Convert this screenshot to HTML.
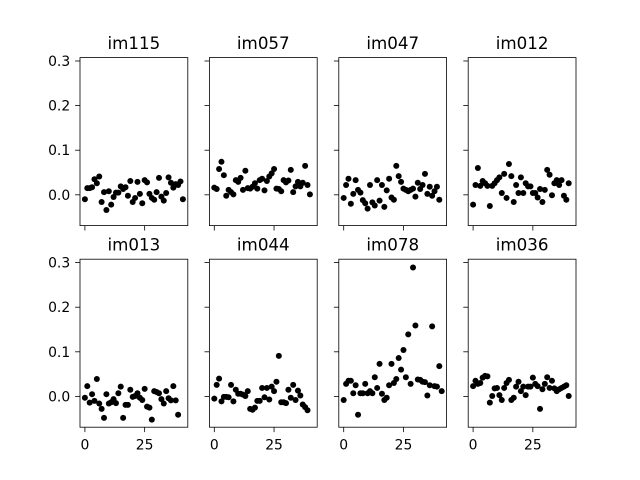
<!DOCTYPE html>
<html><head><meta charset="utf-8">
<style>
html,body{margin:0;padding:0;background:#fff;}
svg{display:block;font-family:"DejaVu Sans","Liberation Sans",sans-serif;}
</style></head>
<body>
<svg id="fig" width="640" height="480" viewBox="0 0 640 480" xmlns="http://www.w3.org/2000/svg">
<rect width="640" height="480" fill="#fff"/>
</svg>
<script>
const titles = ["im115","im057","im047","im012","im013","im044","im078","im036"];
const yTicks = [0.0, 0.1, 0.2, 0.3];
const yTickLabels = ["0.0","0.1","0.2","0.3"];
const xTicks = [0, 25];
const xTickLabels = ["0","25"];
const s_im115 = [-0.010,0.015,0.015,0.017,0.035,0.026,0.041,-0.016,0.006,-0.034,0.008,-0.022,-0.005,0.005,0.005,0.019,0.013,0.017,-0.002,0.031,-0.016,-0.007,0.029,0.002,-0.019,0.033,0.028,0.002,-0.007,-0.011,0.006,0.038,-0.004,-0.013,0.004,0.039,0.027,0.016,0.024,0.022,0.030,-0.010];
const s_im057 = [0.016,0.013,0.058,0.074,0.044,-0.002,0.011,0.006,0.001,0.033,0.029,0.038,0.011,0.054,0.015,0.014,0.018,0.026,0.014,0.033,0.036,0.010,0.031,0.041,0.048,0.058,0.014,0.013,0.008,0.033,0.028,0.032,0.056,0.006,0.019,0.029,0.019,0.027,0.065,0.022,0.001];
const s_im047 = [-0.007,0.022,0.036,-0.020,0.002,0.033,0.011,0.005,-0.012,-0.019,-0.031,0.022,-0.017,-0.024,0.033,-0.013,0.022,-0.027,0.010,0.036,-0.006,-0.011,0.065,0.042,0.029,0.014,0.011,0.008,0.011,0.014,-0.004,0.027,0.013,0.022,0.047,0.002,0.018,-0.002,0.008,0.018,-0.011];
const s_im012 = [-0.022,0.022,0.060,0.020,0.031,0.026,0.020,-0.025,0.020,0.026,0.033,0.039,0.004,0.047,-0.007,0.069,0.042,-0.016,0.022,0.004,0.039,0.004,0.026,0.019,0.019,0.004,0.004,-0.006,0.013,-0.016,0.011,0.056,0.045,-0.001,0.026,0.033,0.022,0.033,-0.002,-0.011,0.026];
const s_im013 = [-0.003,0.023,-0.014,0.005,-0.010,0.039,-0.016,-0.028,-0.048,0.005,-0.016,-0.013,-0.006,-0.015,0.007,0.022,-0.048,-0.019,-0.019,0.015,-0.001,0.001,0.007,-0.003,-0.008,0.017,-0.023,-0.025,-0.052,0.012,0.010,0.007,-0.006,-0.016,0.012,-0.004,-0.009,0.023,-0.009,-0.041];
const s_im044 = [-0.005,0.026,0.040,-0.011,-0.001,-0.001,-0.002,0.026,-0.011,0.015,0.006,0.006,0.004,0.001,0.012,-0.028,-0.030,-0.025,-0.010,-0.010,0.019,-0.002,0.019,-0.007,0.022,0.012,0.033,0.091,-0.013,-0.013,-0.015,0.015,-0.003,0.026,-0.008,0.013,0.002,-0.018,-0.024,-0.031];
const s_im078 = [-0.008,0.028,0.035,0.035,0.007,0.025,-0.041,0.007,0.007,0.028,0.007,0.012,0.007,0.043,0.019,0.073,0.006,-0.008,-0.003,0.025,0.073,0.030,0.039,0.086,0.060,0.104,0.043,0.139,0.028,0.289,0.159,0.038,0.037,0.033,0.032,0.002,0.025,0.157,0.023,0.022,0.068,0.012];
const s_im036 = [0.023,0.035,0.028,0.030,0.042,0.046,0.045,-0.014,0.001,0.018,0.019,0.003,-0.008,0.019,0.030,0.037,-0.008,-0.003,0.022,0.033,0.012,0.022,0.003,0.022,0.022,0.042,0.028,0.023,-0.028,0.016,0.028,0.043,0.019,0.035,0.018,0.012,0.016,0.019,0.022,0.025,0.001];
const series = [s_im115,s_im057,s_im047,s_im012,s_im013,s_im044,s_im078,s_im036];

const NS = "http://www.w3.org/2000/svg";
const svg = document.getElementById("fig");
const W = 107.8, H = 168;
const lefts = [80, 209.4, 338.8, 468.2];
const tops = [57.6, 259.2];
const xMin = -2.05, xMax = 43.05, yMin = -0.069, yMax = 0.3076;

function mk(tag, attrs, parent){
  const e = document.createElementNS(NS, tag);
  for (const k in attrs) e.setAttribute(k, attrs[k]);
  (parent||svg).appendChild(e);
  return e;
}

for (let p = 0; p < 8; p++) {
  const col = p % 4, row = Math.floor(p / 4);
  const L = lefts[col], T = tops[row];
  const sx = v => L + (v - xMin) / (xMax - xMin) * W;
  const sy = v => T + H - (v - yMin) / (yMax - yMin) * H;
  const g = mk("g", {});
  
  

  const pts = mk("g", {}, g);
  
  
  series[p].forEach((v, i) => {
    const c = mk("circle", {cx: sx(i).toFixed(2), cy: sy(v).toFixed(2), r: 3, fill: "#000"}, pts);
    
    
  });

  const frame = mk("rect", {x: L, y: T, width: W, height: H, fill: "none", stroke: "#000", "stroke-width": 0.8}, g);
  
  

  yTicks.forEach((t, k) => {
    const y = sy(t);
    const tk = mk("line", {x1: L - 4.9, x2: L, y1: y, y2: y, stroke: "#000", "stroke-width": 0.8}, g);
    
    
    if (col === 0) {
      const tx = mk("text", {x: L - 9.8, y: y + 5, "text-anchor": "end", "font-size": 13.9, fill: "#000"}, g);
      tx.textContent = yTickLabels[k];
      
      
    }
  });
  xTicks.forEach((t, k) => {
    const x = sx(t);
    const tk = mk("line", {x1: x, x2: x, y1: T + H, y2: T + H + 4.9, stroke: "#000", "stroke-width": 0.8}, g);
    
    
    if (row === 1) {
      const tx = mk("text", {x: x, y: T + H + 22.5, "text-anchor": "middle", "font-size": 13.9, fill: "#000"}, g);
      tx.textContent = xTickLabels[k];
      
      
    }
  });
  const tt = mk("text", {x: L + W / 2, y: T - 8.5, "text-anchor": "middle", "font-size": 16.7, fill: "#000"}, g);
  tt.textContent = titles[p];
  
  
}
</script>
</body></html>
